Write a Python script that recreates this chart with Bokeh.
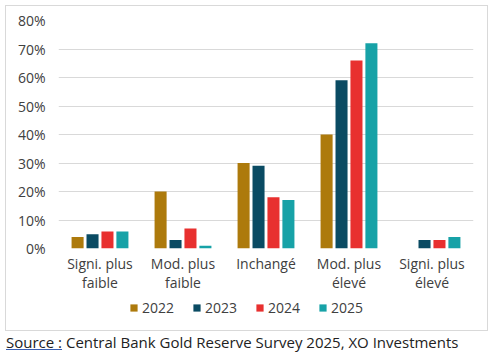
from bokeh.plotting import figure
from bokeh.models import (ColumnDataSource, FactorRange, NumeralTickFormatter, Legend, LegendItem,
                          FixedTicker, Div, Range1d)
from bokeh.layouts import column
from bokeh.transform import dodge
from bokeh.embed import file_html
from bokeh.resources import INLINE

categories = ["Signi. plus\nfaible", "Mod. plus\nfaible", "Inchangé", "Mod. plus\nélevé", "Signi. plus\nélevé"]
years = ["2022", "2023", "2024", "2025"]
v2022 = [0.04, 0.20, 0.30, 0.40, 0.00]
v2023 = [0.05, 0.03, 0.29, 0.59, 0.03]
v2024 = [0.06, 0.07, 0.18, 0.66, 0.03]
v2025 = [0.06, 0.01, 0.17, 0.72, 0.04]
colors = ["#AD7A0C", "#0A4B63", "#E8302F", "#17A2A7"]
source_label = "Source :"
source_text = "Central Bank Gold Reserve Survey 2025, XO Investments"

FONT = "Open Sans"
TXT = "#404040"
src = ColumnDataSource(dict(cat=categories, y2022=v2022, y2023=v2023, y2024=v2024, y2025=v2025))

p = figure(width=481, height=290, x_range=FactorRange(*categories), y_range=(0, 0.8),
           output_backend="svg", toolbar_location=None,
           min_border_left=52, min_border_right=14, min_border_top=14, min_border_bottom=48)
p.outline_line_color = None
p.background_fill_color = "white"

offsets = [-0.27, -0.09, 0.09, 0.27]
for yr, col, off in zip(years, colors, offsets):
    p.vbar(x=dodge("cat", off, range=p.x_range), top="y" + yr, width=0.145, source=src,
           fill_color=col, line_color=None)

p.yaxis.ticker = FixedTicker(ticks=[0, 0.1, 0.2, 0.3, 0.4, 0.5, 0.6, 0.7, 0.8])
p.yaxis.formatter = NumeralTickFormatter(format="0%")
for ax in (p.xaxis, p.yaxis):
    ax.axis_line_color = None
    ax.major_tick_line_color = None
    ax.minor_tick_line_color = None
    ax.major_tick_out = 0
    ax.major_tick_in = 0
    ax.minor_tick_out = 0
    ax.major_label_text_font = FONT
    ax.major_label_text_font_size = "14px"
    ax.major_label_text_color = TXT
p.yaxis.major_label_standoff = 13
p.xaxis.major_label_standoff = 5
p.xaxis.major_label_text_line_height = 1.05
p.xgrid.grid_line_color = None
p.ygrid.grid_line_color = "#d9d9d9"
p.ygrid.grid_line_width = 1

# legend strip (separate small figure so the legend sits inside its frame)
pl = figure(width=481, height=34, x_range=Range1d(0, 1), y_range=Range1d(0, 1),
            output_backend="svg", toolbar_location=None, x_axis_type=None, y_axis_type=None,
            min_border=0)
pl.outline_line_color = None
pl.xgrid.visible = False
pl.ygrid.visible = False
leg_renderers = [pl.vbar(x=0, top="y" + yr, width=0.1, source=src, fill_color=c, line_color=None,
                         visible=False) for yr, c in zip(years, colors)]
legend = Legend(items=[LegendItem(label=y, renderers=[r]) for y, r in zip(years, leg_renderers)],
                orientation="horizontal", location=(71, 13),
                label_text_font=FONT, label_text_font_size="14px", label_text_color=TXT,
                glyph_width=9, glyph_height=9, spacing=18, label_standoff=4,
                border_line_color=None, background_fill_alpha=0, padding=2, margin=0)
pl.add_layout(legend)

box = column(p, pl, width=481, height=324, margin=(6, 6, 0, 6),
             styles={"outline": "1px solid #d9d9d9"})

div = Div(text=f'<span style="text-decoration: underline; text-decoration-color: #3a5fb0;">{source_label}</span> {source_text}',
          width=487, height=24, margin=(2, 0, 0, 6),
          styles={"font-family": FONT, "font-size": "15px", "color": "#222222", "white-space": "nowrap"})

layout = column(box, div, width=493, height=354)
open("out.html", "w").write(file_html(layout, INLINE))
